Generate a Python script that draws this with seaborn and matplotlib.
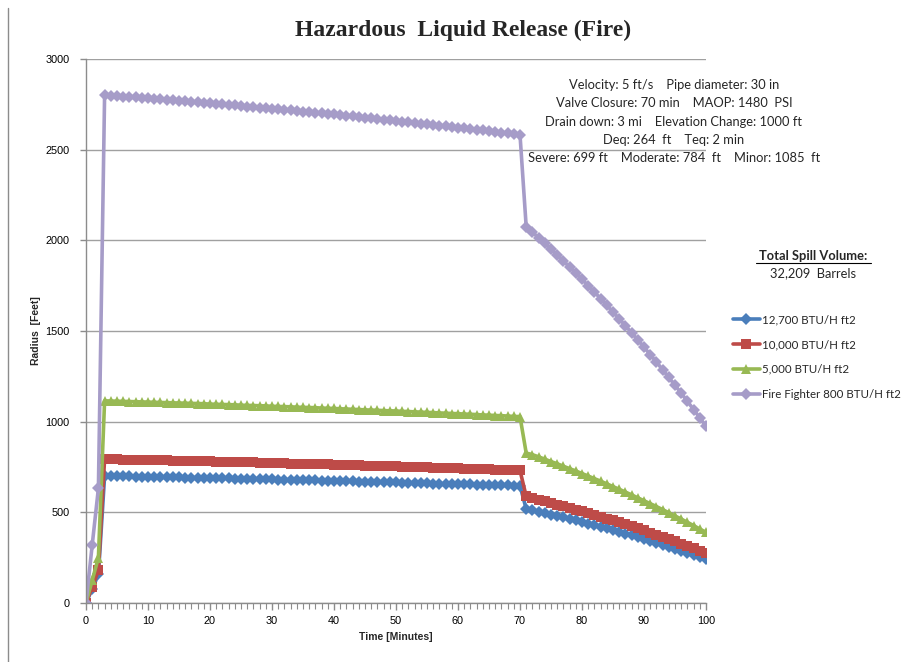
import numpy as np
import pandas as pd
import matplotlib
matplotlib.use("Agg")
import matplotlib.pyplot as plt
import seaborn as sns
from matplotlib.ticker import MultipleLocator

minutes = list(range(0, 101))

fire_fighter = [0, 320, 632, 2800, 2798, 2796, 2793, 2791, 2788, 2786, 2783, 2781, 2778, 2775, 2773, 2770,
                2767, 2764, 2762, 2759, 2756, 2753, 2750, 2747, 2744, 2741, 2738, 2735, 2732, 2729, 2726,
                2723, 2720, 2717, 2713, 2710, 2707, 2704, 2700, 2697, 2694, 2690, 2687, 2683, 2680, 2676,
                2673, 2669, 2666, 2662, 2659, 2655, 2652, 2648, 2644, 2641, 2637, 2633, 2629, 2626, 2622,
                2618, 2614, 2610, 2606, 2602, 2598, 2594, 2590, 2586, 2582,
                2075, 2045, 2014, 1983, 1951, 1919, 1886, 1853, 1819, 1785, 1750, 1715, 1679, 1642, 1605,
                1567, 1529, 1490, 1451, 1411, 1370, 1329, 1287, 1244, 1201, 1157, 1112, 1067, 1021, 975]

flux_5000 = [0, 125, 250, 1115, 1114, 1113, 1112, 1111, 1110, 1109, 1108, 1107, 1106, 1105, 1104, 1103,
             1102, 1101, 1100, 1099, 1097, 1096, 1095, 1094, 1093, 1091, 1090, 1089, 1088, 1087, 1085,
             1084, 1083, 1082, 1080, 1079, 1078, 1077, 1075, 1074, 1073, 1071, 1070, 1068, 1067, 1065,
             1064, 1063, 1061, 1060, 1059, 1057, 1056, 1054, 1053, 1051, 1050, 1048, 1047, 1045, 1044,
             1042, 1041, 1039, 1037, 1036, 1034, 1033, 1031, 1029, 1028,
             827, 818, 806, 793, 780, 768, 754, 741, 728, 714, 700, 686, 672, 657, 642,
             627, 612, 596, 580, 564, 548, 532, 515, 498, 480, 463, 445, 427, 408, 390]

flux_10000 = [0, 88, 180, 793, 792, 792, 791, 790, 790, 789, 788, 788, 787, 786, 785, 784,
              784, 783, 782, 781, 781, 780, 779, 778, 777, 776, 775, 775, 774, 773, 772,
              771, 770, 769, 768, 767, 767, 766, 765, 764, 763, 762, 761, 760, 759, 758,
              757, 756, 755, 754, 753, 752, 751, 750, 749, 748, 747, 746, 745, 744, 743,
              741, 740, 739, 738, 737, 736, 735, 733, 732, 731,
              588, 579, 570, 562, 553, 543, 534, 525, 515, 506, 496, 486, 475, 465, 455,
              444, 433, 422, 411, 400, 388, 376, 364, 352, 340, 328, 315, 302, 289, 276]

flux_12700 = [0, 78, 158, 700, 700, 699, 698, 698, 697, 697, 696, 695, 695, 694, 693, 693,
              692, 691, 691, 690, 689, 688, 688, 687, 686, 685, 685, 684, 683, 682, 682,
              681, 680, 679, 678, 678, 677, 676, 675, 674, 674, 673, 672, 671, 670, 669,
              668, 667, 667, 666, 665, 664, 663, 662, 661, 660, 659, 658, 657, 657, 656,
              655, 654, 653, 652, 651, 650, 649, 648, 647, 646,
              519, 511, 504, 496, 488, 480, 472, 463, 455, 446, 438, 429, 420, 411, 401,
              392, 382, 373, 363, 353, 343, 332, 322, 311, 300, 289, 278, 267, 255, 244]

series_names = ["12,700 BTU/H ft2", "10,000 BTU/H ft2", "5,000 BTU/H ft2", "Fire Fighter 800 BTU/H ft2"]
series_values = [flux_12700, flux_10000, flux_5000, fire_fighter]
colors = ["#4A7EBB", "#BE4B48", "#98B954", "#A69CC8"]
markers = ["D", "s", "^", "D"]
msizes = [6.3, 7.0, 7.6, 6.3]

y_ticks = [0, 500, 1000, 1500, 2000, 2500, 3000]
x_ticks = [0, 10, 20, 30, 40, 50, 60, 70, 80, 90, 100]

annotation_lines = [
    "Velocity: 5 ft/s    Pipe diameter: 30 in",
    "Valve Closure: 70 min    MAOP: 1480  PSI",
    "Drain down: 3 mi    Elevation Change: 1000 ft",
    "Deq: 264  ft    Teq: 2 min",
    "Severe: 699 ft    Moderate: 784  ft    Minor: 1085  ft",
]

sns.set_theme(style="white")
plt.rcParams["font.family"] = ["Liberation Sans", "DejaVu Sans"]

fig = plt.figure(figsize=(9.04, 6.62), dpi=100)
ax = fig.add_axes([86 / 904, 1 - 603 / 662, (706 - 86) / 904, (603 - 59) / 662])

for name, vals, c, m, ms in zip(series_names, series_values, colors, markers, msizes):
    df = pd.DataFrame({"Time": minutes, "Radius": vals})
    sns.lineplot(data=df, x="Time", y="Radius", ax=ax, color=c, marker=m, markersize=ms,
                 markeredgewidth=0, linewidth=2.6, label=name)

ax.set_xlim(0, 100)
ax.set_ylim(0, 3000)
ax.set_xticks(x_ticks)
ax.set_yticks(y_ticks)
ax.xaxis.set_minor_locator(MultipleLocator(1))
ax.grid(axis="y", color="#A0A0A0", linewidth=1.0)
ax.grid(axis="x", visible=False)
ax.set_axisbelow(True)
for s in ["top", "right"]:
    ax.spines[s].set_visible(False)
for s in ["left", "bottom"]:
    ax.spines[s].set_color("#8C8C8C")
    ax.spines[s].set_linewidth(1.0)
ax.tick_params(axis="both", which="both", direction="out", colors="#8C8C8C", labelcolor="black",
               labelsize=7.8)
ax.tick_params(axis="x", which="major", length=5, width=1, bottom=True, pad=4)
ax.tick_params(axis="x", which="minor", length=4, width=0.8, bottom=True)
ax.tick_params(axis="y", which="major", length=4, width=1, left=True, pad=8)
ax.set_xlabel("Time [Minutes]", fontsize=7.5, fontweight="bold", labelpad=5)
ax.set_ylabel("Radius  [Feet]", fontsize=7.5, fontweight="bold", labelpad=3)

fig.text(463 / 904, 1 - 30 / 662, "Hazardous  Liquid Release (Fire)", ha="center", va="center",
         fontsize=17, fontweight="bold", family=["Liberation Serif", "DejaVu Serif"])

for i, line in enumerate(annotation_lines):
    fig.text(674 / 904, 1 - (85 + i * 18.3) / 662, line, ha="center", va="center",
             fontsize=9.3, family=["Lato", "DejaVu Sans"])

fig.text(813 / 904, 1 - 256 / 662, "Total Spill Volume:", ha="center", va="center",
         fontsize=9.3, fontweight="bold", family=["Lato", "DejaVu Sans"])
fig.add_artist(plt.Line2D([756 / 904, 871 / 904], [1 - 263 / 662, 1 - 263 / 662], color="black", lw=0.8))
fig.text(813 / 904, 1 - 273 / 662, "32,209  Barrels", ha="center", va="center",
         fontsize=9.3, family=["Lato", "DejaVu Sans"])

leg = ax.legend(loc="upper left", bbox_to_anchor=(724 / 904, 1 - 305 / 662), bbox_transform=fig.transFigure,
                frameon=False, handlelength=2.3, handletextpad=0.2, labelspacing=1.2, borderpad=0.3,
                prop={"family": ["Lato", "DejaVu Sans"], "size": 8.3})

fig.add_artist(plt.Line2D([8 / 904, 8 / 904], [0, 1 - 8 / 662], color="#8C8C8C", lw=1.0))

fig.savefig("out.png", dpi=100)
